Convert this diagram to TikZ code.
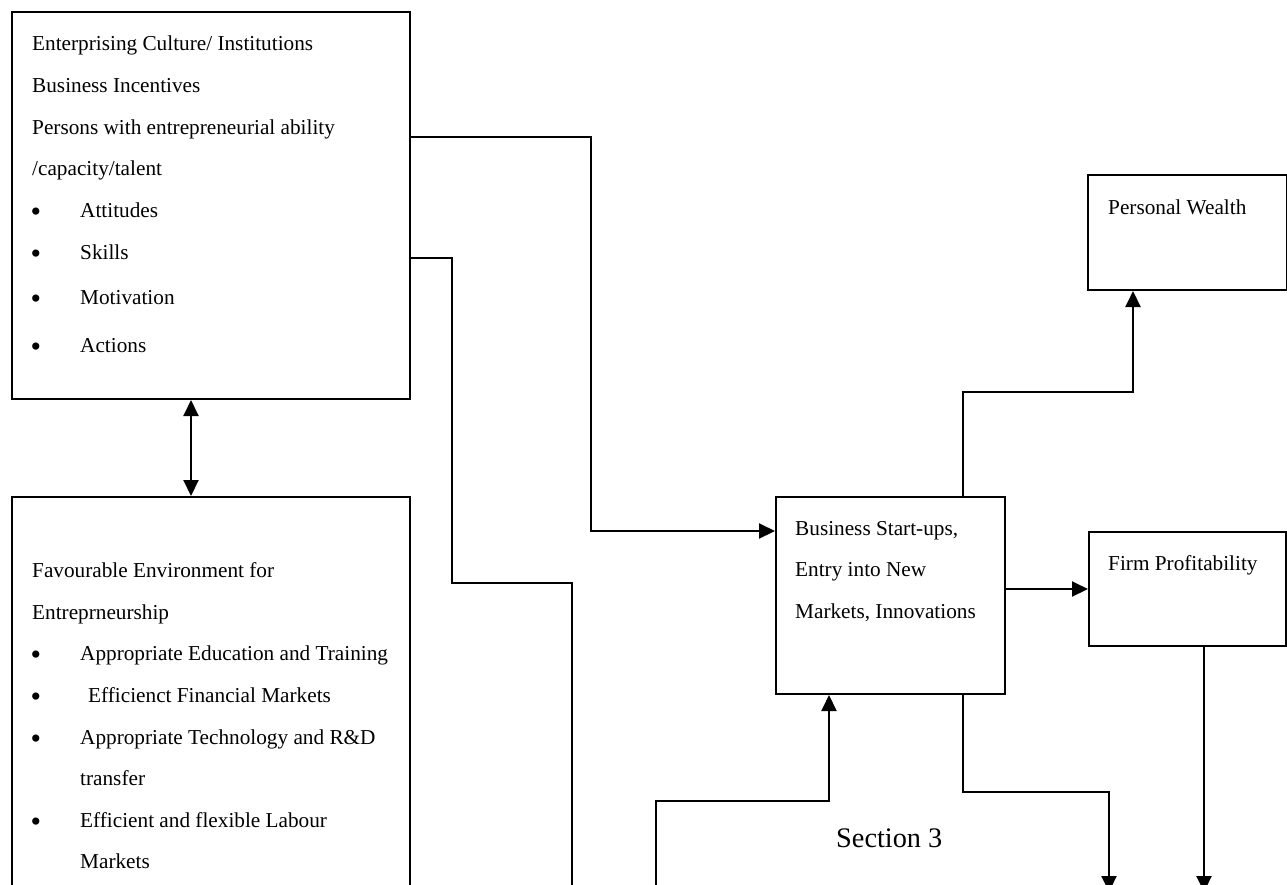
\documentclass[tikz,border=0pt]{standalone}
\usepackage{fontspec}
\setmainfont{Liberation Serif}
\usetikzlibrary{arrows.meta}
\newcommand\fsnorm{\fontsize{21.25}{25}\selectfont}
\newcommand\fslarge{\fontsize{28.3}{34}\selectfont}
\newcommand\fsbul{\fontsize{30}{34}\selectfont}
\begin{document}
\begin{tikzpicture}[x=1pt,y=-1pt,
  box/.style={draw, line width=2pt, inner sep=0pt, anchor=north west},
  txt/.style={anchor=base west, inner sep=0pt, font=\fsnorm},
  bul/.style={anchor=center, inner sep=0pt, font=\fsbul, yshift=-4.5pt},
  conn/.style={line width=2pt},
  arr/.style={conn, -{Triangle[length=16pt,width=15pt]}},
  darr/.style={conn, {Triangle[length=16pt,width=15pt]}-{Triangle[length=16pt,width=15pt]}}]
\useasboundingbox (0,0) rectangle (1287,884);
\clip (0,0) rectangle (1287,884);
% boxes
\node[box, minimum width=398pt, minimum height=387pt] (top) at (11,11) {};
\node[box, minimum width=398pt, minimum height=500pt] (env) at (11,496) {};
\node[box, minimum width=229pt, minimum height=197pt] (bus) at (775,496) {};
\node[box, minimum width=199pt, minimum height=115pt] (pw) at (1087,174) {};
\node[box, minimum width=197pt, minimum height=114pt] (fp) at (1088,531) {};
% top box text
\node[txt] (t1) at (32,50) {Enterprising Culture/ Institutions};
\node[txt] (t2) at (32,92) {Business Incentives};
\node[txt] (t3) at (32,134) {Persons with entrepreneurial ability};
\node[txt] (t4) at (32,175) {/capacity/talent};
\node[bul] (b1) at (36,210) {•};
\node[txt] (t5) at (80,217) {Attitudes};
\node[bul] (b2) at (36,252) {•};
\node[txt] (t6) at (80,259) {Skills};
\node[bul] (b3) at (36,297) {•};
\node[txt] (t7) at (80,304) {Motivation};
\node[bul] (b4) at (36,345) {•};
\node[txt] (t8) at (80,352) {Actions};
% environment box text
\node[txt] (e1) at (32,577) {Favourable Environment for};
\node[txt] (e2) at (32,619) {Entreprneurship};
\node[bul] (eb1) at (36,653) {•};
\node[txt] (e3) at (80,660) {Appropriate Education and Training};
\node[bul] (eb2) at (36,695) {•};
\node[txt] (e4) at (88,702) {Efficienct Financial Markets};
\node[bul] (eb3) at (36,737) {•};
\node[txt] (e5) at (80,744) {Appropriate Technology and R\&D};
\node[txt] (e6) at (80,785) {transfer};
\node[bul] (eb4) at (36,820) {•};
\node[txt] (e7) at (80,827) {Efficient and flexible Labour};
\node[txt] (e8) at (80,868) {Markets};
% business box text
\node[txt] (s1) at (795,535) {Business Start-ups,};
\node[txt] (s2) at (795,576) {Entry into New};
\node[txt] (s3) at (795,618) {Markets, Innovations};
\node[txt] (pwt) at (1108,214) {Personal Wealth};
\node[txt] (fpt) at (1108,570) {Firm Profitability};
\node[anchor=base west, inner sep=0pt, font=\fslarge] (sec) at (836,847) {Section 3};
% helper coordinates
\coordinate (y137) at (0,137);
\coordinate (y258) at (0,258);
\coordinate (y531) at (0,531);
\coordinate (y589) at (0,589);
\coordinate (x191) at (191,0);
\coordinate (x963) at (963,0);
\coordinate (x829) at (829,0);
\coordinate (x1133) at (1133,0);
\coordinate (x1204) at (1204,0);
\coordinate (off1) at (572,900);
\coordinate (off2) at (1109,892);
\coordinate (off3) at (1204,892);
\coordinate (off4) at (656,900);
% connectors
\draw[darr] (top.south -| x191) -- (env.north -| x191);
\draw[arr] (top.east |- y137) -- (591,137) -- (591,531) -- (bus.west |- y531);
\draw[conn] (top.east |- y258) -- (452,258) -- (452,583) -- (572,583) -- (off1);
\draw[arr] (bus.north -| x963) -- (963,392) -- (1133,392) -- (pw.south -| x1133);
\draw[arr] (bus.east |- y589) -- (fp.west |- y589);
\draw[arr] (bus.south -| x963) -- (963,792) -- (1109,792) -- (off2);
\draw[arr] (fp.south -| x1204) -- (off3);
\draw[arr] (off4) -- (656,801) -- (829,801) -- (bus.south -| x829);
\end{tikzpicture}
\end{document}
